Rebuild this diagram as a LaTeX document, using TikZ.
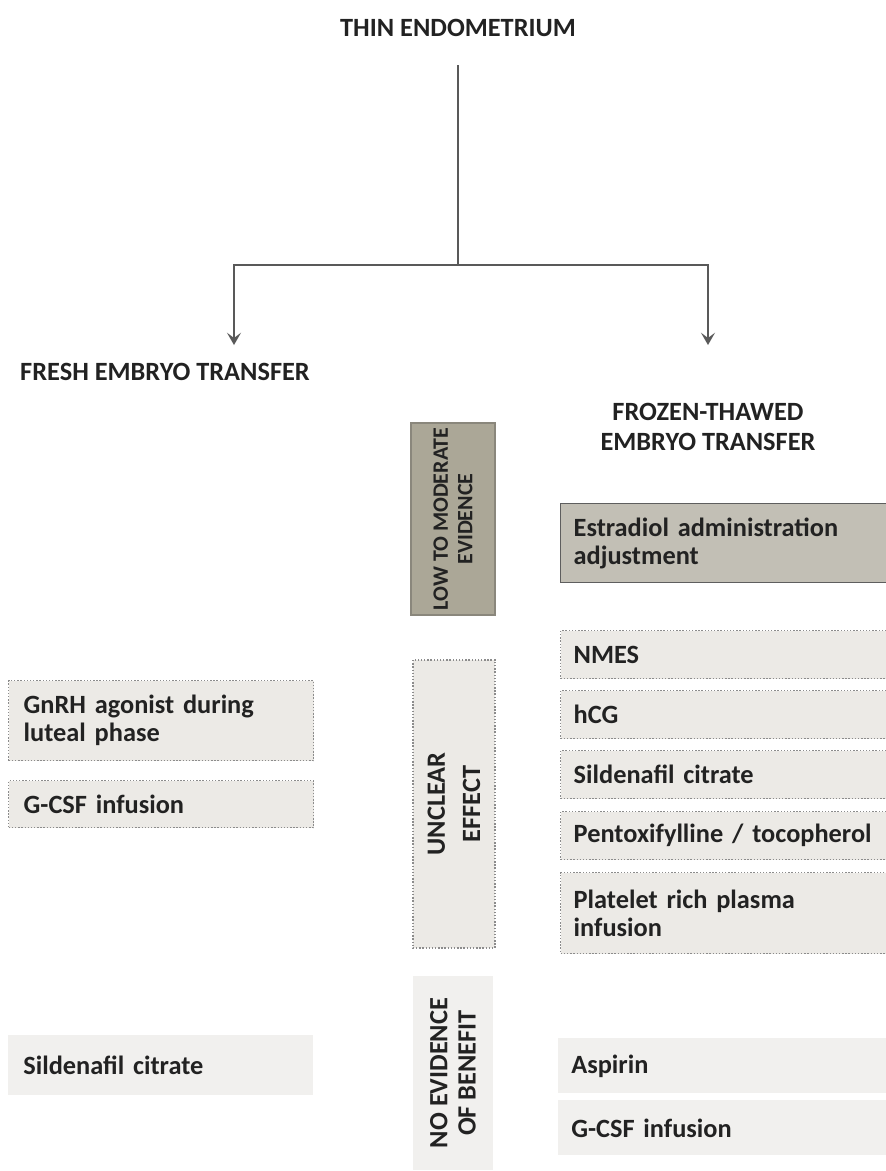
\documentclass[tikz,border=0pt]{standalone}
\usepackage{fontspec}
\setmainfont{Carlito}
\usetikzlibrary{arrows.meta}

\definecolor{lowfill}{HTML}{ABA797}
\definecolor{lowline}{HTML}{8A877C}
\definecolor{estfill}{HTML}{C2BFB5}
\definecolor{estline}{HTML}{5E5E5E}
\definecolor{dotfill}{HTML}{ECEAE6}
\definecolor{dotline}{HTML}{8C8C8C}
\definecolor{fadefill}{HTML}{F1F0EE}
\definecolor{ink}{HTML}{222222}

\begin{document}
\begin{tikzpicture}[x=0.02cm, y=-0.02cm,
  line/.style={draw=black!65, line width=0.8pt},
  tip/.style={-{Stealth[length=7pt, width=8pt, inset=3pt]}},
  head/.style={font=\fontsize{15}{17}\selectfont\bfseries, text=ink, align=center},
  item/.style={anchor=north west, font=\fontsize{15}{16}\selectfont\bfseries,
    text=ink, align=left, inner ysep=0pt},
  rightitem/.style={item, inner xsep=0.26cm, text width=6.4cm},
  leftitem/.style={item, inner xsep=0.3cm, text width=5.5cm},
  dotbox/.style={fill=dotfill, draw=dotline, densely dotted, line width=0.8pt},
  fadebox/.style={fill=fadefill, draw=none},
  sidebar/.style={rotate=90, font=\fontsize{15}{16}\selectfont\bfseries,
    text=ink, align=center, inner sep=1pt}
]
  \clip (0,0) rectangle (886,1171);

  % --- Top of the tree ---
  \node[head] (title) at (458,28) {THIN ENDOMETRIUM};
  \coordinate (stemtop) at (458,65);
  \coordinate (split) at (458,265);
  \coordinate (lefttip) at (234,345);
  \coordinate (righttip) at (708,345);
  \draw[line] (stemtop) -- (split);
  \draw[line, tip] (split) -| (lefttip);
  \draw[line, tip] (split) -| (righttip);

  \node[head] (fresh) at (165,372) {FRESH EMBRYO TRANSFER};
  \node[head] (frozen) at (708,427) {FROZEN-THAWED\\EMBRYO TRANSFER};

  % --- Evidence bars in the middle ---
  \node[sidebar, fill=lowfill, draw=lowline, line width=0.8pt,
    font=\fontsize{12.5}{14}\selectfont\bfseries,
    minimum width=3.84cm, minimum height=1.68cm] (lowmod) at (453,519)
    {LOW TO MODERATE\\EVIDENCE};
  \node[sidebar, dotbox, text=ink, minimum width=5.76cm, minimum height=1.64cm]
    (unclear) at (454,804) {UNCLEAR\\[4pt]EFFECT};
  \node[sidebar, fadebox, minimum width=3.9cm, minimum height=1.6cm]
    (noevid) at (453,1073) {NO EVIDENCE\\OF BENEFIT};

  % --- Frozen-thawed transfer ---
  \node[rightitem, fill=estfill, draw=estline, line width=0.8pt, minimum height=1.58cm]
    (estradiol) at (560,503) {Estradiol administration\\adjustment};
  \node[rightitem, dotbox, minimum height=0.96cm] (nmes) at (560,630) {NMES};
  \node[rightitem, dotbox, minimum height=0.96cm] (hcg) at (560,690) {hCG};
  \node[rightitem, dotbox, minimum height=0.96cm] (silright) at (560,750) {Sildenafil citrate};
  \node[rightitem, dotbox, minimum height=0.96cm] (pentox) at (560,811) {Pentoxifylline / tocopherol};
  \node[rightitem, dotbox, minimum height=1.62cm] (prp) at (560,872) {Platelet rich plasma\\infusion};
  \node[rightitem, fadebox, minimum height=1.1cm] (aspirin) at (558,1038) {Aspirin};
  \node[rightitem, fadebox, minimum height=1.1cm] (gcsfright) at (558,1100) {G-CSF infusion};

  % --- Fresh transfer ---
  \node[leftitem, dotbox, minimum height=1.6cm] (gnrh) at (8,680) {GnRH agonist during\\luteal phase};
  \node[leftitem, dotbox, minimum height=0.94cm] (gcsfleft) at (8,780) {G-CSF infusion};
  \node[leftitem, fadebox, minimum height=1.2cm] (silleft) at (8,1035) {Sildenafil citrate};
\end{tikzpicture}
\end{document}
